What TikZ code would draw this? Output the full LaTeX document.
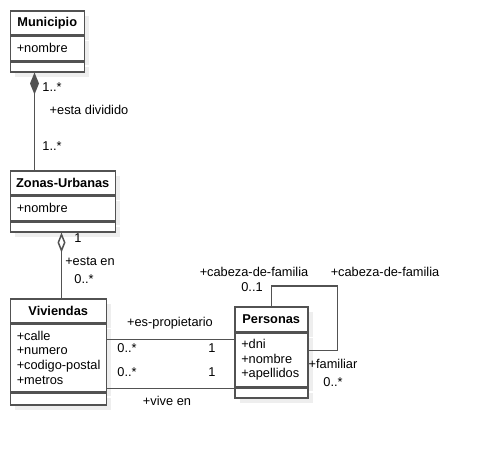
\documentclass[tikz,border=0pt]{standalone}
\usepackage{fontspec}
\setmainfont{Liberation Sans}
\usetikzlibrary{arrows.meta,calc,shadows}
\definecolor{lc}{RGB}{82,82,82}
\definecolor{shc}{RGB}{238,238,238}
\newcommand\umlfs{\fontsize{12.8}{14.7}\selectfont}
\begin{document}
\begin{tikzpicture}[x=1pt,y=-1pt,
  every node/.style={font=\umlfs, text=black},
  box/.style={draw=lc, line width=1.5pt, fill=white, rectangle, inner sep=0pt, anchor=north west,
    drop shadow={shadow xshift=5pt,shadow yshift=-5pt,fill=shc,opacity=1}},
  ttl/.style={box, font=\umlfs\bfseries},
  attr/.style={box, align=left, inner xsep=6.5pt},
  conn/.style={draw=lc, line width=1.5pt},
  lbl/.style={inner sep=0pt, text height=9.2pt, text depth=0pt}
]
\useasboundingbox (0,0) rectangle (480,448);
\fill[white] (0,0) rectangle (480,448);

% Municipio
\node[ttl, minimum width=74pt, minimum height=24pt] (munT) at (9.5,10) {Municipio};
\node[attr, text width=61pt, minimum height=24pt] (munA) at (munT.south west) {+nombre};
\node[box, minimum width=74pt, minimum height=10pt] (munO) at (munA.south west) {};

% Zonas-Urbanas
\node[ttl, minimum width=105pt, minimum height=24pt] (zonT) at (9.5,170) {Zonas-Urbanas};
\node[attr, text width=92pt, minimum height=24pt] (zonA) at (zonT.south west) {+nombre};
\node[box, minimum width=105pt, minimum height=10pt] (zonO) at (zonA.south west) {};

% Viviendas
\node[ttl, minimum width=96pt, minimum height=24pt] (vivT) at (9.5,298) {Viviendas};
\node[attr, text width=83pt, minimum height=67pt] (vivA) at (vivT.south west) {\mbox{+calle}\\\mbox{+numero}\\\mbox{+codigo-postal}\\\mbox{+metros}};
\node[box, minimum width=96pt, minimum height=12pt] (vivO) at (vivA.south west) {};

% Personas
\node[ttl, minimum width=73pt, minimum height=25pt] (perT) at (234,306) {Personas};
\node[attr, text width=60pt, minimum height=53pt] (perA) at (perT.south west) {+dni\\+nombre\\+apellidos};
\node[box, minimum width=73pt, minimum height=10pt] (perO) at (perA.south west) {};

% Municipio -- Zonas (composition)
\coordinate (m1) at ($(munO.south west)+(25,0)$);
\coordinate (z1) at (m1 |- zonT.north);
\draw[conn, {Diamond[length=22pt,width=9pt,fill=lc,line width=0pt]}-] (m1) -- (z1);
\node[lbl] (l1) at (52,87) {1..*};
\node[lbl] (l2) at (89,110) {+esta dividido};
\node[lbl] (l3) at (52,146) {1..*};

% Zonas -- Viviendas (aggregation)
\coordinate (z2) at ($(zonO.south west)+(52,0)$);
\coordinate (v1) at (z2 |- vivT.north);
\draw[conn, {Diamond[open,length=20pt,width=8pt,fill=white]}-] (z2) -- (v1);
\node[lbl] (l4) at (78,238) {1};
\node[lbl] (l5) at (90,261) {+esta en};
\node[lbl] (l6) at (84,279) {0..*};

% es-propietario
\coordinate (p1) at ($(vivA.north east)+(0,16)$);
\coordinate (p2) at (p1 -| perA.west);
\draw[conn] (p1) -- (p2);
\node[lbl] (l7) at (170,322) {+es-propietario};
\node[lbl] (l8) at (127,348) {0..*};
\node[lbl] (l9) at (212,348) {1};

% vive en
\coordinate (q1) at ($(vivA.south east)+(0,-3.5)$);
\coordinate (q2) at (q1 -| perA.west);
\draw[conn] (q1) -- (q2);
\node[lbl] (l10) at (127,372) {0..*};
\node[lbl] (l11) at (212,372) {1};
\node[lbl] (l12) at (167,401) {+vive en};

% self association
\coordinate (loopR) at ($(perA.north east)+(29,18)$);
\draw[conn] (perT.north) -- ++(0,-20) -| (loopR) -- (loopR -| perA.east);
\node[lbl] (l13) at (254,272) {+cabeza-de-familia};
\node[lbl] (l14) at (385,272) {+cabeza-de-familia};
\node[lbl] (l15) at (252,287) {0..1};
\node[lbl] (l16) at (333,364) {+familiar};
\node[lbl] (l17) at (333,382) {0..*};
\end{tikzpicture}
\end{document}
